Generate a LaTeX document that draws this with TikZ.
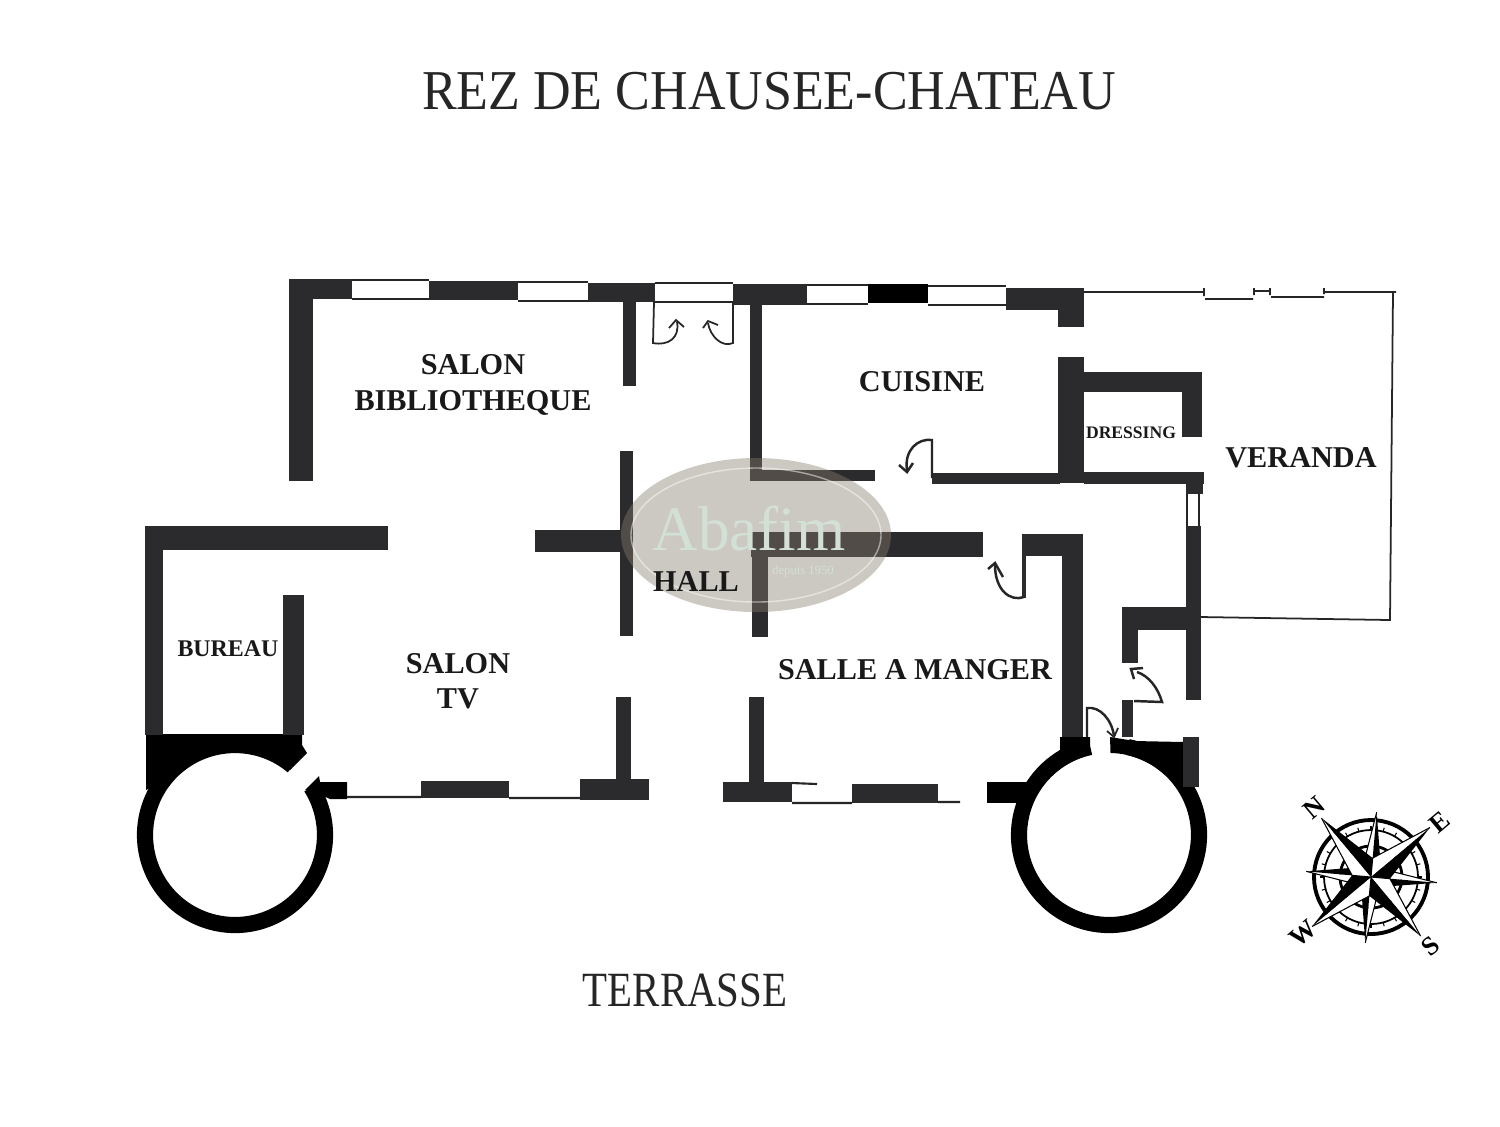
\documentclass[tikz,border=0pt]{standalone}
\usepackage{fontspec}
\setmainfont{Liberation Serif}
\usetikzlibrary{arrows,positioning,calc}
\definecolor{wallcol}{HTML}{2B2A2C}
\definecolor{stampcol}{HTML}{877D70}
\definecolor{stamptxt}{HTML}{D3E0D6}
\tikzset{
    wall/.style={fill=wallcol},
    blackwall/.style={fill=black},
    ring/.style={draw=black,line width=4.6pt},
    thin wall/.style={draw=black!85,line width=0.45pt},
    door/.style={draw=black!85,line width=0.5pt},
    room/.style={font=\bfseries\fontsize{8.6}{10}\selectfont,align=center,text=black!90},
    small room/.style={font=\bfseries\fontsize{5}{6}\selectfont,text=black!90},
    big text/.style={font=\fontsize{16}{18}\selectfont,text=black!85},
    compass letter/.style={font=\bfseries\fontsize{7.5}{9}\selectfont,inner sep=0pt,rotate=40},
}
\begin{document}
\begin{tikzpicture}[x=0.01cm,y=-0.01cm]
    \useasboundingbox (0,0) rectangle (1500,1126);
    \fill[white] (0,0) rectangle (1500,1126);

    % towers
    \coordinate (towerw) at (235,835);
    \coordinate (towere) at (1109,835);
    \draw[ring] (towerw) ++(-32:90) arc[start angle=-32,end angle=310,radius=90];
    \draw[ring] (towere) ++(-78:90) arc[start angle=-78,end angle=258,radius=90];
    \fill[blackwall] (146,734) -- (302,734) -- (302,745) -- (307,753) -- (290,770)
        arc[start angle=-50,end angle=-130,radius=82] -- (146,790) -- cycle;
    \fill[blackwall] (305,790) -- (319,776) -- (320,782) -- (347,782) -- (347,799) -- (330,799) -- (315,792) -- cycle;
    \fill[blackwall] (1090,737) -- (1090,755) arc[start angle=-103,end angle=-135,radius=82]
        -- (1040,766) -- (1060,750) -- (1060,737) -- cycle;
    \fill[blackwall] (1110,737) -- (1135,741) -- (1184,742) -- (1184,780) -- (1165,775)
        arc[start angle=-47,end angle=-89,radius=82] -- cycle;
    \fill[blackwall] (987,782) rectangle (1030,803);

    % top wall
    \foreach \xa/\ya/\xb/\yb in {289/279/352/299,429/281/518/300,588/283/655/302,733/284/807/305,1006/288/1084/310}
        \fill[wall] (\xa,\ya) rectangle (\xb,\yb);
    \fill[blackwall] (868,284) rectangle (928,303);
    \foreach \xa/\xb/\ya/\yb in {352/429/280/299,518/588/282/301,655/733/283/302,807/868/285/304,928/1006/286/305}
        \draw[thin wall] (\xa,\ya) -- (\xb,\ya) (\xa,\yb) -- (\xb,\yb);
    \fill[wall] (1058,299) rectangle (1084,327);

    % inner walls
    \foreach \xa/\ya/\xb/\yb in {
        289/279/313/481, 623/299/636/386, 620/451/633/636, 750/299/762/480,
        750/470/875/481, 932/473/1060/484, 1058/357/1084/483, 1084/372/1202/392,
        1182/392/1202/437, 1084/472/1204/484, 1186/484/1203/494, 1186/526/1201/700,
        1122/607/1186/630, 1122/630/1138/663, 1122/700/1133/737, 1062/534/1083/737,
        1022/534/1062/556, 1022/556/1026/598, 1183/737/1199/787,
        751/532/983/557, 752/557/768/637, 535/530/622/552, 145/526/388/550,
        145/550/163/735, 283/595/304/735,
        421/781/509/798, 580/779/649/800, 616/697/631/779, 723/782/792/802,
        852/784/938/803, 749/697/764/782}
        \fill[wall] (\xa,\ya) rectangle (\xb,\yb);

    % windows and thin lines
    \draw[thin wall] (1187,494) -- (1187,526) (1199,494) -- (1199,526);
    \draw[thin wall,line width=0.6pt] (347,797) -- (421,797) (509,798) -- (581,798)
        (792,783) -- (817,784) (792,803) -- (852,803) (938,802) -- (960,802);

    % veranda
    \draw[thin wall,line width=0.5pt] (1084,292) -- (1204,292) (1204,288) -- (1204,296)
        (1205,299) -- (1253,299) (1254,288) -- (1254,295) (1254,291) -- (1270,291) (1270,288) -- (1270,295)
        (1271,297) -- (1324,297) (1324,288) -- (1324,294) (1324,292) -- (1396,292)
        (1393,292) -- (1390,620) -- (1201,617);

    % doors
    \draw[door] (654,302) -- (653,343) .. controls (668,346) and (680,338) .. (677,322);
    \draw[door] (669,328) -- (676,320) -- (684,327);
    \draw[door] (733,302) -- (733,343) .. controls (722,348) and (710,336) .. (708,323);
    \draw[door] (703,328) -- (708,321) -- (718,325);
    \draw[door,line width=0.7pt] (932,478) -- (932,440) .. controls (918,438) and (904,450) .. (907,470);
    \draw[door,line width=0.7pt] (899,465) -- (907,472) -- (913,463);
    \draw[door,line width=0.7pt] (1024,597) .. controls (1010,602) and (995,590) .. (995,565);
    \draw[door,line width=0.7pt] (988,569) -- (995,563) -- (1003,577);
    \draw[door,line width=0.7pt] (1134,701) -- (1162,702) .. controls (1158,688) and (1149,676) .. (1137,672);
    \draw[door,line width=0.7pt] (1134,679) -- (1131,669) -- (1143,668);
    \draw[door,line width=0.7pt] (1087,737) -- (1087,708) .. controls (1100,706) and (1112,720) .. (1114,736);
    \draw[door] (1107,731) -- (1114,737) -- (1118,728);

    % stamp
    \fill[stampcol,fill opacity=0.42] (756,535) ellipse (135 and 77);
    \draw[white,opacity=0.5,line width=0.4pt] (756,535) ellipse (125 and 67);
    \node[text=stamptxt,font=\fontsize{18}{18}\selectfont,inner sep=0pt,anchor=base] (stampname) at (749,550) {Abafim};
    \node[text=stamptxt,font=\fontsize{3.6}{4}\selectfont,inner sep=0pt] (stampyear) at (803,571) {depuis 1950};

    % labels
    \node[big text,xscale=0.925] (title) at (769,91) {REZ DE CHAUSEE-CHATEAU};
    \node[big text,font=\fontsize{14}{16}\selectfont,xscale=0.83] (terrasse) at (685,990) {TERRASSE};
    \node[room] (salon) at (473,385) {SALON\\BIBLIOTHEQUE};
    \node[room] (cuisine) at (922,382) {CUISINE};
    \node[small room] (dressing) at (1131,433) {DRESSING};
    \node[room] (veranda) at (1301,458) {VERANDA};
    \node[room] (hall) at (696,581) {HALL};
    \node[room,font=\bfseries\fontsize{6.8}{8}\selectfont] (bureau) at (228,649) {BUREAU};
    \node[room] (salontv) at (458,681) {SALON\\TV};
    \node[room] (manger) at (915,670) {SALLE A MANGER};

    % compass
    \coordinate (cc) at (1371,877);
    \draw[black,line width=1.1pt] (cc) circle (57);
    \draw[black,line width=0.5pt] (cc) circle (47);
    \draw[black,line width=0.8pt] (cc) circle (31);
    \foreach \a in {0,15,...,345}
        \draw[black,line width=0.3pt] ($(cc)+(\a:47)$) -- ($(cc)+(\a:51)$);
    \foreach \a/\r/\w in {-85/65/13,5/66/13,95/66/13,185/65/13,-40/77/19,50/77/19,140/77/19,230/77/19} {
        \fill[white] ($(cc)+(\a:\r)$) -- ($(cc)+(\a-45:\w)$) -- (cc) -- cycle;
        \fill[black] ($(cc)+(\a:\r)$) -- ($(cc)+(\a+45:\w)$) -- (cc) -- cycle;
        \draw[black,line width=0.3pt] ($(cc)+(\a:\r)$) -- ($(cc)+(\a-45:\w)$) -- (cc);
    }
    \node[compass letter] (north) at (1314,808) {N};
    \node[compass letter] (east) at (1440,822) {E};
    \node[compass letter] (south) at (1431,946) {S};
    \node[compass letter] (west) at (1303,934) {W};
\end{tikzpicture}
\end{document}
